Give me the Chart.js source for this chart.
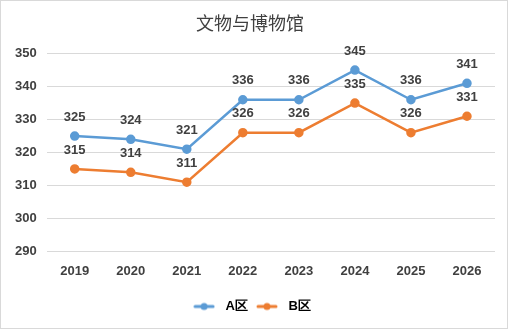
<!DOCTYPE html>
<html><head><meta charset="utf-8">
<script src="https://cdn.jsdelivr.net/npm/chart.js@4/dist/chart.umd.min.js"></script>
<style>
html,body{margin:0;padding:0;background:#fff;}
#wrap{position:absolute;left:0;top:0;width:506px;height:327px;border:1px solid #d9d9d9;}
</style></head><body>
<div id="wrap"><canvas id="c" width="506" height="327"></canvas></div>
<script>
const categories = ['2019','2020','2021','2022','2023','2024','2025','2026'];
const seriesA = [325,324,321,336,336,345,336,341];
const seriesB = [315,314,311,326,326,335,326,331];
const seriesNames = ['A区','B区'];
const colors = ['#5B9BD5','#ED7D31'];

function legendIcon(color){
  const c=document.createElement('canvas');c.width=22;c.height=10;
  const x=c.getContext('2d');
  x.strokeStyle=color;x.lineWidth=3;x.lineCap='round';
  x.beginPath();x.moveTo(2,5);x.lineTo(20,5);x.stroke();
  x.fillStyle=color;x.beginPath();x.arc(11,5,3.5,0,Math.PI*2);x.fill();
  return c;
}

const labelPlugin={id:'lbl',afterDatasetsDraw(chart){
  const ctx=chart.ctx;ctx.save();
  ctx.font='bold 13px "Liberation Sans", Arial, sans-serif';
  ctx.fillStyle='#404040';ctx.textAlign='center';ctx.textBaseline='middle';
  chart.data.datasets.forEach((ds,i)=>{
    chart.getDatasetMeta(i).data.forEach((p,j)=>{
      ctx.fillText(String(ds.data[j]),p.x,p.y-19);
    });
  });
  ctx.restore();
}};

new Chart(document.getElementById('c'),{
  type:'line',
  data:{labels:categories,datasets:[
    {label:seriesNames[0],data:seriesA,borderColor:colors[0],backgroundColor:colors[0],borderWidth:2.5,pointRadius:3.5,pointHoverRadius:3.5,pointStyle:'circle'},
    {label:seriesNames[1],data:seriesB,borderColor:colors[1],backgroundColor:colors[1],borderWidth:2.5,pointRadius:3.5,pointHoverRadius:3.5,pointStyle:'circle'}
  ]},
  options:{
    responsive:false,animation:false,
    layout:{padding:{left:4,right:12,top:0,bottom:5}},
    plugins:{
      title:{display:true,text:'文物与博物馆',color:'#404040',font:{family:'"Noto Sans CJK SC"',size:18,weight:'normal'},padding:{top:11,bottom:20}},
      legend:{position:'bottom',labels:{usePointStyle:true,pointStyleWidth:30,color:'#595959',font:{size:13,weight:'bold',family:'"Liberation Sans", Arial, sans-serif'},padding:4,
        generateLabels(chart){return chart.data.datasets.map((d,i)=>({text:d.label,fillStyle:colors[i],strokeStyle:colors[i],pointStyle:legendIcon(colors[i]),datasetIndex:i,lineWidth:0}));}}},
      tooltip:{enabled:false}
    },
    scales:{
      x:{offset:true,grid:{display:false},border:{display:false},ticks:{color:'#404040',font:{size:13,weight:'bold',family:'"Liberation Sans", Arial, sans-serif'},padding:4},
        afterFit(s){s.height+=13;}},
      y:{min:290,max:350,ticks:{stepSize:10,color:'#404040',font:{size:13,weight:'bold',family:'"Liberation Sans", Arial, sans-serif'},padding:10},grid:{color:'#d9d9d9',drawTicks:false},border:{display:false}}
    }
  },
  plugins:[labelPlugin]
});
</script></body></html>
